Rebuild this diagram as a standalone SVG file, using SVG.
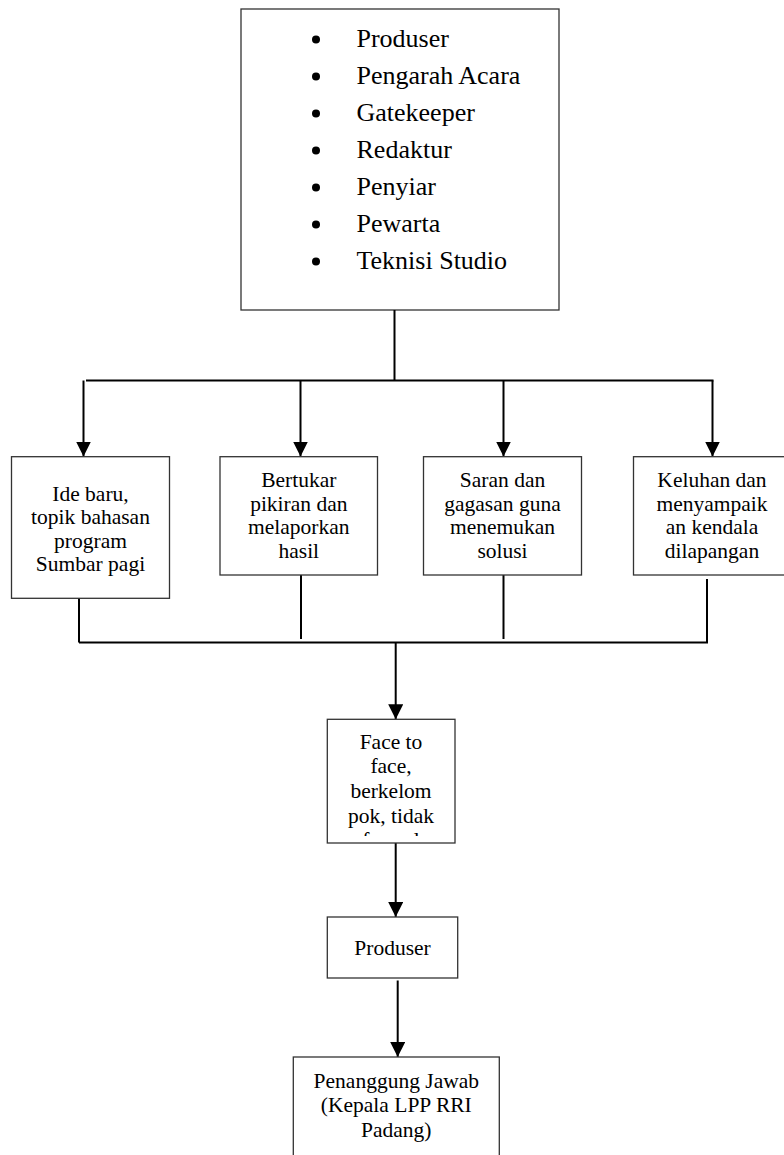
<svg xmlns="http://www.w3.org/2000/svg" width="784" height="1155" viewBox="0 0 784 1155">
  <style>
    .box { fill: #ffffff; stroke: #333333; stroke-width: 1.3; }
    .wire { fill: none; stroke: #000000; stroke-width: 2; }
    text { font-family: 'Liberation Serif', 'Times New Roman', Times, serif; fill: #000000; }
    .t { font-size: 21.5px; text-anchor: middle; }
    .list { font-size: 26px; }
  </style>
  <defs>
    <marker id="arrow" viewBox="0 0 15 15" refX="15" refY="7.5" markerWidth="15" markerHeight="15" markerUnits="userSpaceOnUse" orient="auto">
      <path d="M0,0 L15,7.5 L0,15 Z" fill="#000000"/>
    </marker>
    <clipPath id="faceClip">
      <rect x="328" y="720" width="126" height="116"/>
    </clipPath>
  </defs>

  <!-- Staff list -->
  <g id="staff">
    <rect class="box" x="241" y="9" width="318" height="301"/>
    <g fill="#000000">
      <circle cx="316" cy="39.5" r="4"/>
      <circle cx="316" cy="76.5" r="4"/>
      <circle cx="316" cy="113.5" r="4"/>
      <circle cx="316" cy="150.5" r="4"/>
      <circle cx="316" cy="187.5" r="4"/>
      <circle cx="316" cy="224.5" r="4"/>
      <circle cx="316" cy="261.5" r="4"/>
    </g>
    <text class="list" x="356.5" y="46.7" font-family="Liberation Serif, serif">Produser</text>
    <text class="list" x="356.5" y="83.7" font-family="Liberation Serif, serif">Pengarah Acara</text>
    <text class="list" x="356.5" y="120.7" font-family="Liberation Serif, serif">Gatekeeper</text>
    <text class="list" x="356.5" y="157.7" font-family="Liberation Serif, serif">Redaktur</text>
    <text class="list" x="356.5" y="194.7" font-family="Liberation Serif, serif">Penyiar</text>
    <text class="list" x="356.5" y="231.7" font-family="Liberation Serif, serif">Pewarta</text>
    <text class="list" x="356.5" y="268.7" font-family="Liberation Serif, serif">Teknisi Studio</text>
  </g>

  <!-- Connectors -->
  <g id="connectors">
    <path class="wire" d="M394.5,310 V380.5"/>
    <path class="wire" d="M86,380.5 H713.5"/>
    <path class="wire" d="M83.5,380.5 V456.5" marker-end="url(#arrow)"/>
    <path class="wire" d="M300.5,380.5 V456.5" marker-end="url(#arrow)"/>
    <path class="wire" d="M503.5,380.5 V456.5" marker-end="url(#arrow)"/>
    <path class="wire" d="M712.5,380.5 V456.5" marker-end="url(#arrow)"/>

    <path class="wire" d="M79,598 V642.5"/>
    <path class="wire" d="M301,575 V639"/>
    <path class="wire" d="M503.5,575 V639"/>
    <path class="wire" d="M707,579 V642.5"/>
    <path class="wire" d="M79,642.5 H708"/>

    <path class="wire" d="M395.7,642.5 V719.3" marker-end="url(#arrow)"/>
    <path class="wire" d="M395.7,843 V917" marker-end="url(#arrow)"/>
    <path class="wire" d="M397.7,980.5 V1057" marker-end="url(#arrow)"/>
  </g>

  <!-- Input topics -->
  <g id="ide-baru">
    <rect class="box" x="11.5" y="456.7" width="158" height="141.6"/>
    <text class="t" x="90.5" y="500.7">Ide baru,</text>
    <text class="t" x="90.5" y="524.3">topik bahasan</text>
    <text class="t" x="90.5" y="547.5">program</text>
    <text class="t" x="90.5" y="571">Sumbar pagi</text>
  </g>

  <g id="bertukar-pikiran">
    <rect class="box" x="220" y="456.7" width="157.5" height="118.3"/>
    <text class="t" x="298.8" y="486.7">Bertukar</text>
    <text class="t" x="298.8" y="510.7">pikiran dan</text>
    <text class="t" x="298.8" y="534.3">melaporkan</text>
    <text class="t" x="298.8" y="558.3">hasil</text>
  </g>

  <g id="saran-gagasan">
    <rect class="box" x="423.5" y="456.7" width="158" height="118.3"/>
    <text class="t" x="502.5" y="486.7">Saran dan</text>
    <text class="t" x="502.5" y="510.7">gagasan guna</text>
    <text class="t" x="502.5" y="534.3">menemukan</text>
    <text class="t" x="502.5" y="558.3">solusi</text>
  </g>

  <g id="keluhan">
    <rect class="box" x="633.5" y="456.7" width="157" height="118.3"/>
    <text class="t" x="712" y="486.7">Keluhan dan</text>
    <text class="t" x="712" y="510.7">menyampaik</text>
    <text class="t" x="712" y="534.3">an kendala</text>
    <text class="t" x="712" y="558.3">dilapangan</text>
  </g>

  <!-- Meeting format -->
  <g id="face-to-face">
    <rect class="box" x="327.3" y="719.3" width="127.7" height="123.7"/>
    <g clip-path="url(#faceClip)">
      <text class="t" x="391" y="749.3">Face to</text>
      <text class="t" x="391" y="773.3">face,</text>
      <text class="t" x="391" y="798">berkelom</text>
      <text class="t" x="391" y="822.5">pok, tidak</text>
      <text class="t" x="391" y="846.7">formal</text>
    </g>
  </g>

  <g id="produser">
    <rect class="box" x="327.3" y="917" width="130.4" height="61"/>
    <text class="t" x="392.5" y="955">Produser</text>
  </g>

  <g id="penanggung-jawab">
    <rect class="box" x="293.3" y="1057" width="206" height="110"/>
    <text class="t" x="396.3" y="1088.3">Penanggung Jawab</text>
    <text class="t" x="396.3" y="1112.3">(Kepala LPP RRI</text>
    <text class="t" x="396.3" y="1136.7">Padang)</text>
  </g>
</svg>
